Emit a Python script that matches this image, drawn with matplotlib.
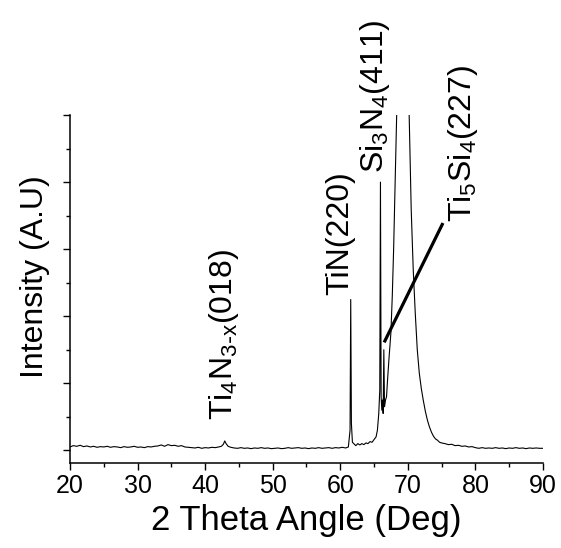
import numpy as np
import matplotlib
matplotlib.use("Agg")
import matplotlib.pyplot as plt
from matplotlib.ticker import MultipleLocator

plt.rcParams['font.family'] = ['Liberation Sans', 'DejaVu Sans']
plt.rcParams['mathtext.default'] = 'regular'

# XRD pattern (2 theta in deg, intensity in arbitrary units)
two_theta = [
    20.0, 20.5, 21.0, 21.5, 22.0, 22.5, 23.0, 23.5, 24.0, 24.5,
    25.0, 25.5, 26.0, 26.5, 27.0, 27.5, 28.0, 28.5, 29.0, 29.5,
    30.0, 30.5, 31.0, 31.5, 32.0, 32.5, 33.0, 33.5, 34.0, 34.5,
    35.0, 35.5, 36.0, 36.5, 37.0, 37.5, 38.0, 38.5, 39.0, 39.5,
    40.0, 40.5, 41.0, 41.5, 42.0, 42.4, 42.7, 42.9, 43.1, 43.4,
    43.8, 44.3, 44.8, 45.3, 45.8, 46.3, 46.8, 47.3, 47.8, 48.3,
    48.8, 49.3, 49.8, 50.3, 50.8, 51.3, 51.8, 52.3, 52.8, 53.3,
    53.8, 54.3, 54.8, 55.3, 55.8, 56.3, 56.8, 57.3, 57.8, 58.3,
    58.8, 59.3, 59.8, 60.3, 60.8, 61.2, 61.45, 61.55, 61.65, 61.8,
    62.0, 62.3, 62.6, 62.9, 63.2, 63.5, 63.8, 64.1, 64.4, 64.7,
    65.0, 65.3, 65.5, 65.7, 65.85, 65.95, 66.05, 66.15, 66.25, 66.35,
    66.45, 66.55, 66.7, 66.85, 67.0, 67.2, 67.5, 67.7, 67.9, 68.1,
    68.35, 68.7, 69.2, 69.7, 70.2, 70.5, 70.8, 71.1, 71.4, 71.7,
    72.0, 72.3, 72.6, 72.9, 73.2, 73.5, 73.8, 74.1, 74.4, 74.7,
    75.0, 75.5, 76.0, 76.5, 77.0, 77.5, 78.0, 78.5, 79.0, 79.5,
    80.0, 80.5, 81.0, 81.5, 82.0, 82.5, 83.0, 83.5, 84.0, 84.5,
    85.0, 85.5, 86.0, 86.5, 87.0, 87.5, 88.0, 88.5, 89.0, 89.5,
    90.0,
]
intensity = [
    0.05, 0.07, 0.06, 0.075, 0.055, 0.065, 0.05, 0.06, 0.045, 0.055,
    0.05, 0.06, 0.045, 0.055, 0.05, 0.04, 0.055, 0.045, 0.05, 0.06,
    0.045, 0.05, 0.04, 0.055, 0.05, 0.06, 0.065, 0.08, 0.06, 0.085,
    0.07, 0.075, 0.06, 0.07, 0.05, 0.045, 0.04, 0.035, 0.045, 0.03,
    0.04, 0.035, 0.045, 0.04, 0.05, 0.06, 0.09, 0.14, 0.10, 0.06,
    0.045, 0.035, 0.03, 0.04, 0.03, 0.035, 0.025, 0.035, 0.03, 0.04,
    0.03, 0.035, 0.025, 0.03, 0.035, 0.025, 0.03, 0.04, 0.03, 0.035,
    0.04, 0.03, 0.035, 0.025, 0.035, 0.03, 0.04, 0.03, 0.035, 0.04,
    0.03, 0.04, 0.035, 0.045, 0.035, 0.05, 0.30, 2.25, 0.40, 0.12,
    0.10, 0.07, 0.10, 0.08, 0.10, 0.085, 0.11, 0.10, 0.13, 0.12,
    0.16, 0.20, 0.30, 0.55, 0.90, 4.00, 0.80, 0.60, 0.75, 0.55,
    1.50, 0.65, 0.75, 0.80, 1.05, 1.35, 1.76, 2.30, 3.00, 3.90,
    5.00, 5.80, 6.20, 5.80, 5.00, 3.60, 2.70, 2.05, 1.50, 1.15,
    0.92, 0.74, 0.58, 0.45, 0.35, 0.27, 0.21, 0.17, 0.15, 0.12,
    0.11, 0.10, 0.085, 0.09, 0.07, 0.075, 0.06, 0.065, 0.05, 0.055,
    0.04, 0.03, 0.04, 0.03, 0.035, 0.03, 0.04, 0.03, 0.035, 0.025,
    0.035, 0.03, 0.04, 0.03, 0.035, 0.025, 0.035, 0.03, 0.035, 0.03,
    0.03,
]

# peak labels: (text, x, y bottom)
peak_labels = [
    (r'Ti$_4$N$_{3\text{-}x}$(018)', 42.75, 0.45),
    ('TiN(220)', 60.0, 2.31),
    (r'Si$_3$N$_4$(411)', 65.1, 4.13),
    (r'Ti$_5$Si$_4$(227)', 78.2, 3.41),
]
pointer_x = [66.5, 75.2]
pointer_y = [1.61, 3.39]

fig = plt.figure(figsize=(5.61, 5.48), dpi=100)
ax = fig.add_axes([0.1248, 0.155, 0.843, 0.635])

ax.plot(two_theta, intensity, color='black', lw=0.8)
ax.plot(pointer_x, pointer_y, color='black', lw=2.3, solid_capstyle='butt')

for txt, x, y in peak_labels:
    ax.text(x, y, txt, rotation=90, ha='center', va='bottom',
            fontsize=23, clip_on=False)

ax.set_xlim(20, 90)
ax.set_ylim(-0.19, 5.0)
ax.xaxis.set_major_locator(MultipleLocator(10))
ax.xaxis.set_minor_locator(MultipleLocator(5))
ax.yaxis.set_major_locator(MultipleLocator(1))
ax.yaxis.set_minor_locator(MultipleLocator(0.5))
ax.set_yticklabels([])
ax.tick_params(which='major', direction='out', length=5, width=1.0, labelsize=18, pad=3)
ax.tick_params(which='minor', direction='out', length=3, width=1.0)

ax.spines['top'].set_visible(False)
ax.spines['right'].set_visible(False)
ax.spines['left'].set_linewidth(1.1)
ax.spines['bottom'].set_linewidth(1.1)

ax.set_xlabel('2 Theta Angle (Deg)', fontsize=25, labelpad=4)
ax.set_ylabel('Intensity (A.U)', fontsize=23)
ax.yaxis.set_label_coords(-0.042, 0.537)

fig.savefig('out.png', dpi=100)
